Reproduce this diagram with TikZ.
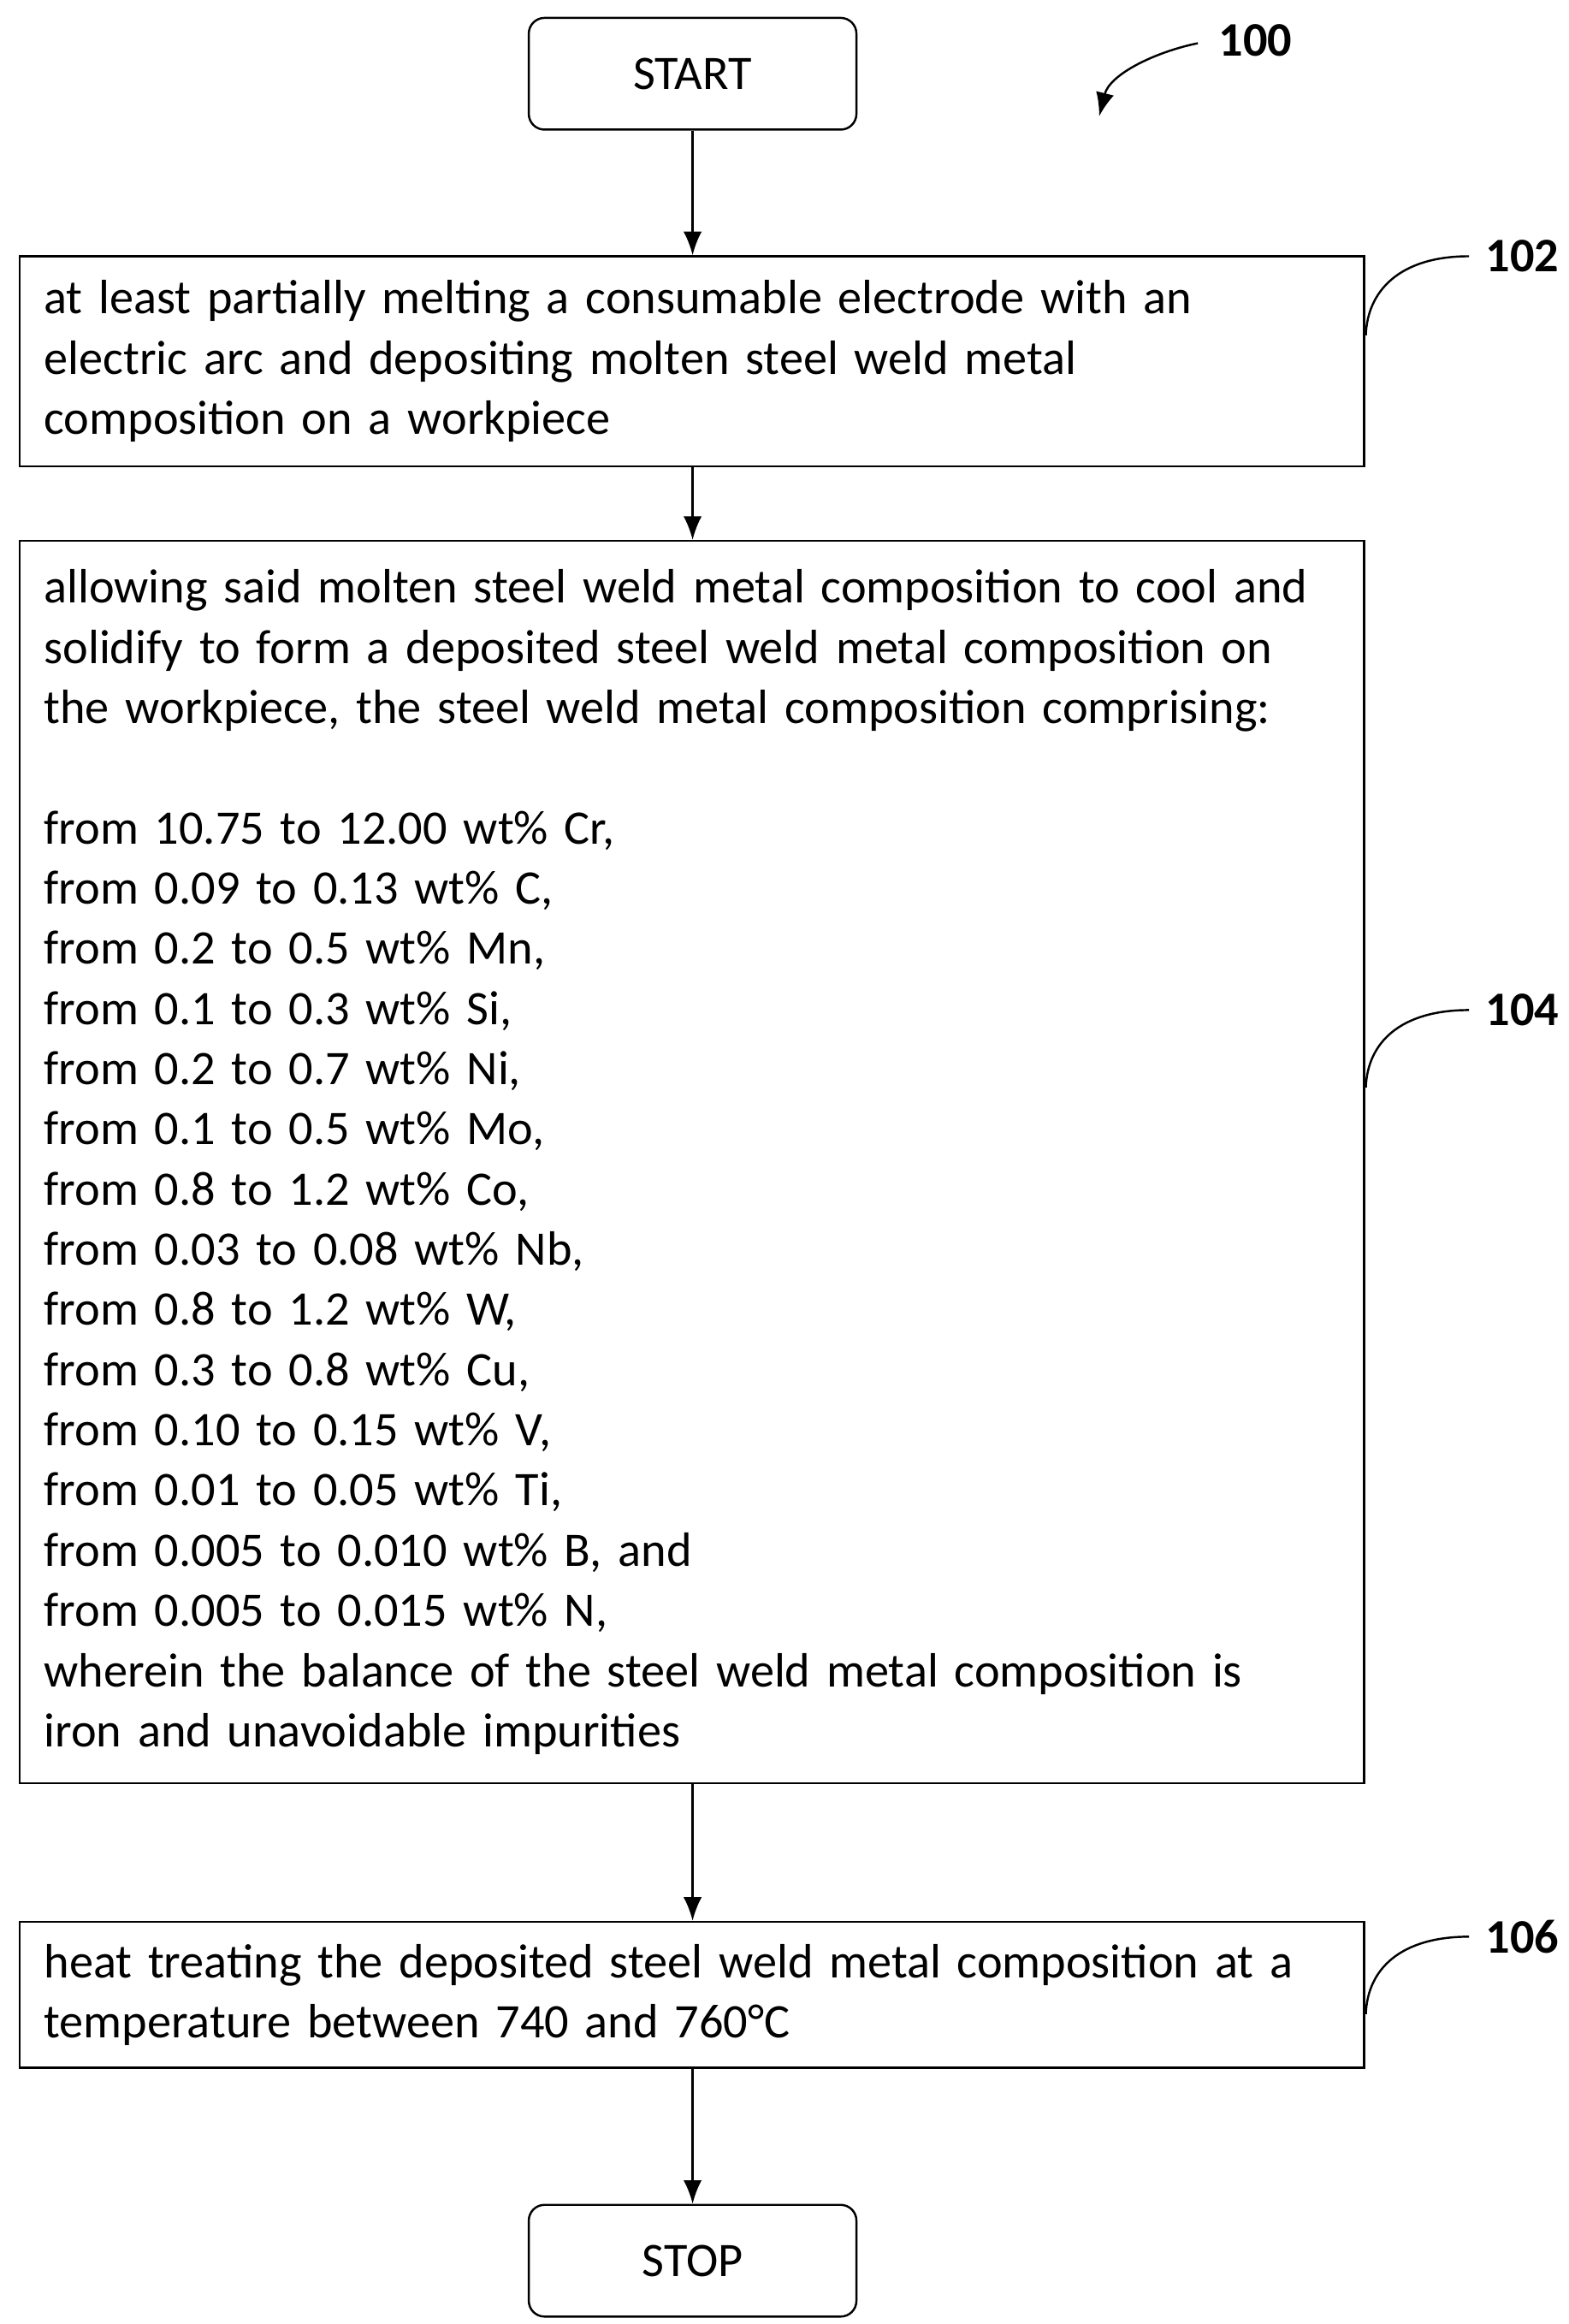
\documentclass[tikz,border=0pt]{standalone}
\usepackage{fontspec}
\setmainfont{Carlito}
\usetikzlibrary{positioning,arrows.meta}
\tikzset{
  stepbox/.style={draw,thick,rectangle,minimum width=18.06cm,text width=17.4cm,align=left,inner xsep=0.33cm,inner ysep=0.2cm,font=\fontsize{18.4}{23}\selectfont},
  termbox/.style={draw,thick,rounded corners=6pt,minimum width=4.4cm,minimum height=1.5cm,font=\fontsize{18.4}{23}\selectfont},
  reflabel/.style={font=\bfseries\fontsize{18.4}{23}\selectfont},
  flow/.style={-{Latex[length=9pt,width=7pt]},thick}
}
\begin{document}
\begin{tikzpicture}[x=0.02cm,y=-0.02cm]
\useasboundingbox (0,0) rectangle (1053,1560);
\node[termbox] (start) at (465,49.5) {START};
\node[stepbox,minimum height=2.82cm] (s102) at (464.5,242.5) {at least partially melting a consumable electrode with an\\ electric arc and depositing molten steel weld metal\\ composition on a workpiece};
\node[stepbox,minimum height=16.68cm] (s104) at (464.5,780) {allowing said molten steel weld metal composition to cool and\\ solidify to form a deposited steel weld metal composition on\\ the workpiece, the steel weld metal composition comprising:\\[23pt]
from 10.75 to 12.00 wt\% Cr,\\
from 0.09 to 0.13 wt\% C,\\
from 0.2 to 0.5 wt\% Mn,\\
from 0.1 to 0.3 wt\% Si,\\
from 0.2 to 0.7 wt\% Ni,\\
from 0.1 to 0.5 wt\% Mo,\\
from 0.8 to 1.2 wt\% Co,\\
from 0.03 to 0.08 wt\% Nb,\\
from 0.8 to 1.2 wt\% W,\\
from 0.3 to 0.8 wt\% Cu,\\
from 0.10 to 0.15 wt\% V,\\
from 0.01 to 0.05 wt\% Ti,\\
from 0.005 to 0.010 wt\% B, and\\
from 0.005 to 0.015 wt\% N,\\
wherein the balance of the steel weld metal composition is\\ iron and unavoidable impurities};
\node[stepbox,minimum height=1.96cm] (s106) at (464.5,1339) {heat treating the deposited steel weld metal composition at a\\ temperature between 740 and 760°C};
\node[termbox] (stop) at (465,1517.5) {STOP};
\draw[flow] (start) -- (start|-s102.north);
\draw[flow] (s102.south-|start) -- (start|-s104.north);
\draw[flow] (s104.south-|start) -- (start|-s106.north);
\draw[flow] (s106.south-|start) -- (stop);
% reference numerals
\node[reflabel] (r100) at (843,27) {100};
\node[reflabel] (r102) at (1022,172) {102};
\node[reflabel] (r104) at (1022,678) {104};
\node[reflabel] (r106) at (1022,1300) {106};
\coordinate (a100) at (738,78);
\draw[flow] (r100.west) ++(-8,2) .. controls (775,35) and (745,50) .. (a100);
\draw[thick] (r102.west) ++(-5,0) .. controls (940,172) and (918,195) .. (917,225);
\draw[thick] (r104.west) ++(-5,0) .. controls (940,678) and (918,700) .. (917,730);
\draw[thick] (r106.west) ++(-5,0) .. controls (940,1300) and (918,1322) .. (917,1352);
\end{tikzpicture}
\end{document}
